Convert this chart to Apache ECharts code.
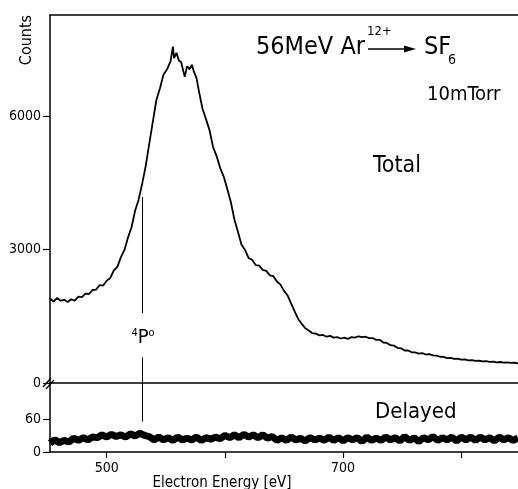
<!DOCTYPE html>
<html>
<head>
<meta charset="utf-8">
<script src="https://cdn.jsdelivr.net/npm/echarts@6/dist/echarts.min.js"></script>
<style>
  html, body { margin: 0; padding: 0; background: #fff; }
  #chart { width: 518px; height: 489px; }
</style>
</head>
<body>
<div id="chart"></div>
<script>
// Total spectrum [energy eV, counts]
const totalSpectrum = [
  [452,1900],[455,1830],[458,1910],[461,1850],[464,1870],[467,1820],[470,1880],[473,1850],
  [476,1940],[479,1930],[482,2010],[485,2000],[488,2090],[491,2100],[494,2200],[497,2190],
  [500,2300],[503,2360],[506,2530],[509,2610],[512,2830],[515,2990],[518,3270],[521,3500],
  [524,3870],[527,4120],[530,4480],[533,4880],[536,5380],[539,5870],[542,6360],[545,6620],
  [548,6930],[551,7050],[554,7230],[556,7560],[557,7300],[559,7420],[561,7250],[563,7210],
  [566,6880],[568,7120],[570,7050],[572,7150],[574,6980],[576,6850],[578,6560],[581,6170],
  [584,5930],[587,5680],[590,5300],[593,5100],[596,4830],[599,4640],[602,4360],[605,4070],
  [608,3680],[611,3400],[614,3110],[617,2990],[620,2810],[623,2770],[626,2650],[629,2640],
  [632,2540],[635,2520],[638,2420],[641,2400],[644,2280],[647,2210],[650,2070],[653,1970],
  [656,1790],[659,1610],[662,1440],[665,1330],[668,1230],[671,1180],[674,1120],[677,1110],
  [680,1070],[683,1080],[686,1040],[689,1060],[692,1020],[695,1030],[698,1000],[701,1020],
  [704,990],[707,1030],[710,1020],[713,1050],[716,1030],[719,1040],[722,1010],[725,1010],
  [728,970],[731,970],[734,910],[737,900],[740,850],[743,840],[746,790],[749,780],
  [752,730],[755,730],[758,690],[761,690],[764,660],[767,670],[770,640],[773,650],
  [776,620],[779,615],[782,590],[785,585],[788,560],[791,565],[794,540],[797,548],
  [800,525],[803,532],[806,510],[809,515],[812,495],[815,500],[818,485],[821,492],
  [824,475],[827,482],[830,465],[833,472],[836,458],[839,465],[842,452],[845,455],[848,440]
];

// Delayed spectrum [energy eV, counts]
const delayedSpectrum = [
  [452,16],[456,22],[460,17],[464,21],[468,18],[472,25],[476,21],[480,26],[484,22],[488,27],
  [492,26],[496,31],[500,27],[504,32],[508,28],[512,31],[516,27],[520,33],[524,29],[528,34],
  [532,30],[536,28],[540,22],[544,27],[548,22],[552,26],[556,21],[560,27],[564,22],[568,25],
  [572,22],[576,27],[580,21],[584,26],[588,23],[592,27],[596,24],[600,30],[604,26],[608,31],
  [612,26],[616,32],[620,27],[624,31],[628,26],[632,31],[636,25],[640,28],[644,21],[648,26],
  [652,21],[656,27],[660,22],[664,25],[668,20],[672,26],[676,22],[680,25],[684,21],[688,27],
  [692,21],[696,26],[700,20],[704,26],[708,22],[712,26],[716,19],[720,27],[724,21],[728,25],
  [732,21],[736,27],[740,22],[744,26],[748,20],[752,28],[756,21],[760,26],[764,19],[768,26],
  [772,22],[776,28],[780,21],[784,26],[788,22],[792,27],[796,20],[800,27],[804,22],[808,27],
  [812,21],[816,27],[820,22],[824,26],[828,20],[832,27],[836,22],[840,26],[844,21],[848,26]
];

const energyRange = [452, 848];
const energyTicks = [500, 600, 700, 800];
const energyLabels = [500, 700];
const totalTicks = [0, 3000, 6000];
const delayedTicks = [0, 60];
const markerEnergy = 530; // 4P° line

const FONT = '"DejaVu Sans Condensed", "Liberation Sans Narrow", "Liberation Sans", sans-serif';
const chart = echarts.init(document.getElementById('chart'));

const blackLine = { show: true, lineStyle: { color: '#000', width: 1.5 } };
const plain = v => String(v);

const option = {
  animation: false,
  backgroundColor: '#fff',
  textStyle: { fontFamily: FONT, color: '#000' },
  grid: [
    { left: 50, top: 15, right: 0, height: 368, outerBoundsMode: 'none' },
    { left: 50, top: 383, right: 0, height: 69, outerBoundsMode: 'none' }
  ],
  xAxis: [
    {
      gridIndex: 0, type: 'value', min: energyRange[0], max: energyRange[1],
      position: 'bottom', axisLine: blackLine, axisTick: { show: false },
      axisLabel: { show: false }, splitLine: { show: false }
    },
    {
      gridIndex: 0, type: 'value', min: energyRange[0], max: energyRange[1],
      position: 'top', axisLine: blackLine, axisTick: { show: false },
      axisLabel: { show: false }, splitLine: { show: false }
    },
    {
      gridIndex: 1, type: 'value', min: energyRange[0], max: energyRange[1],
      position: 'bottom', axisLine: blackLine,
      axisTick: { show: true, customValues: energyTicks, length: 6, lineStyle: { color: '#000', width: 1.2 } },
      axisLabel: { customValues: energyLabels, formatter: plain, color: '#000', fontSize: 14, fontFamily: FONT, margin: 9 },
      splitLine: { show: false },
      name: 'Electron Energy [eV]', nameLocation: 'middle', nameGap: 19,
      nameTextStyle: { color: '#000', fontSize: 15, fontFamily: FONT, padding: [0, 124, 0, 0] }
    }
  ],
  yAxis: [
    {
      gridIndex: 0, type: 'value', min: 0, max: 8270,
      axisLine: blackLine,
      axisTick: { show: true, customValues: totalTicks, length: 7, lineStyle: { color: '#000', width: 1.2 } },
      axisLabel: { customValues: totalTicks, formatter: plain, color: '#000', fontSize: 14, fontFamily: FONT, margin: 9 },
      splitLine: { show: false }
    },
    {
      gridIndex: 1, type: 'value', min: 0, max: 125,
      axisLine: blackLine,
      axisTick: { show: true, customValues: delayedTicks, length: 7, lineStyle: { color: '#000', width: 1.2 } },
      axisLabel: { customValues: delayedTicks, formatter: plain, color: '#000', fontSize: 14, fontFamily: FONT, margin: 9 },
      splitLine: { show: false }
    }
  ],
  series: [
    {
      name: 'Total', type: 'line', xAxisIndex: 0, yAxisIndex: 0,
      data: totalSpectrum, showSymbol: false, silent: true,
      lineStyle: { color: '#000', width: 1.8 },
      markLine: {
        silent: true, symbol: 'none', label: { show: false },
        lineStyle: { color: '#000', width: 1, type: 'solid' },
        data: [
          [{ coord: [markerEnergy, 4180] }, { coord: [markerEnergy, 1570] }],
          [{ coord: [markerEnergy, 580] }, { coord: [markerEnergy, 0] }]
        ]
      }
    },
    {
      name: 'Delayed', type: 'line', xAxisIndex: 2, yAxisIndex: 1,
      data: delayedSpectrum, showSymbol: false, silent: true,
      lineStyle: { color: '#000', width: 7 },
      markLine: {
        silent: true, symbol: 'none', label: { show: false },
        lineStyle: { color: '#000', width: 1, type: 'solid' },
        data: [
          [{ coord: [markerEnergy, 125] }, { coord: [markerEnergy, 55] }]
        ]
      }
    }
  ],
  graphic: [
    // axis title, rotated
    {
      type: 'text', x: 27, y: 40, rotation: Math.PI / 2,
      style: { text: 'Counts', fontSize: 16, fontFamily: FONT, fill: '#000', textAlign: 'center', textVerticalAlign: 'middle' }
    },
    // axis break mark
    { type: 'line', shape: { x1: 43, y1: 387, x2: 51, y2: 378 }, style: { stroke: '#000', lineWidth: 1.3 } },
    { type: 'line', shape: { x1: 46, y1: 389, x2: 54, y2: 380 }, style: { stroke: '#000', lineWidth: 1.3 } },
    // reaction label
    { type: 'text', x: 365, y: 47, style: { text: '56MeV Ar', fontSize: 25, fontFamily: FONT, fill: '#000', textAlign: 'right', textVerticalAlign: 'middle' } },
    { type: 'text', x: 367, y: 32, style: { text: '12+', fontSize: 13, fontFamily: FONT, fill: '#000', textVerticalAlign: 'middle' } },
    { type: 'line', shape: { x1: 368, y1: 49, x2: 408, y2: 49 }, style: { stroke: '#000', lineWidth: 1.5 } },
    { type: 'polygon', shape: { points: [[404, 45.5], [416, 49], [404, 52.5]] }, style: { fill: '#000' } },
    { type: 'text', x: 424, y: 47, style: { text: 'SF', fontSize: 25, fontFamily: FONT, fill: '#000', textVerticalAlign: 'middle' } },
    { type: 'text', x: 448, y: 60, style: { text: '6', fontSize: 14, fontFamily: FONT, fill: '#000', textVerticalAlign: 'middle' } },
    { type: 'text', x: 427, y: 95, style: { text: '10mTorr', fontSize: 20, fontFamily: FONT, fill: '#000', textVerticalAlign: 'middle' } },
    { type: 'text', x: 373, y: 166, style: { text: 'Total', fontSize: 23, fontFamily: FONT, fill: '#000', textVerticalAlign: 'middle' } },
    { type: 'text', x: 375, y: 412, style: { text: 'Delayed', fontSize: 22, fontFamily: FONT, fill: '#000', textVerticalAlign: 'middle' } },
    // 4P° label in the gap of the marker line
    {
      type: 'text', x: 143, y: 338,
      style: {
        text: '{s|4}P{s|o}', fontSize: 20, fontFamily: FONT, fill: '#000',
        textAlign: 'center', textVerticalAlign: 'middle',
        rich: { s: { fontSize: 11, fontFamily: FONT, verticalAlign: 'top', padding: [0, 0, 10, 0] } }
      }
    }
  ]
};

chart.setOption(option);
</script>
</body>
</html>
